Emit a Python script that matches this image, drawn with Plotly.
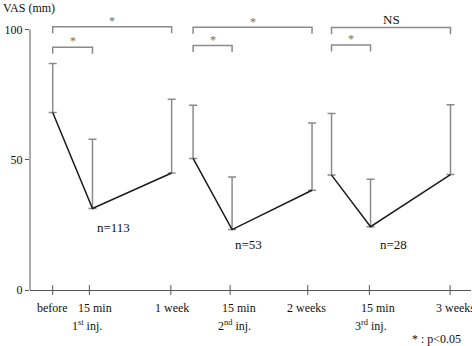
import plotly.graph_objects as go

# ---- data ----
x_pos1 = [0.0, 1.02, 3.05]
x_pos2 = [3.6, 4.6, 6.65]
x_pos3 = [7.15, 8.15, 10.2]
mean1 = [68.1, 31.3, 44.9]
sd1 = [18.8, 26.6, 28.3]
mean2 = [50.5, 23.2, 38.3]
sd2 = [20.4, 20.2, 25.8]
mean3 = [44.1, 24.3, 44.3]
sd3 = [23.6, 18.2, 26.8]
n_labels = ["n=113", "n=53", "n=28"]
n_label_x = [1.57, 5.03, 8.73]
n_label_y = [23.8, 17.3, 17.3]
tick_x = [0, 0.94, 3.03, 4.55, 6.54, 8.12, 10.19]
row1_text = ["before", "15 min", "1 week", "15 min", "2 weeks", "15 min", "3 weeks"]
row1_x = [0, 1.085, 3.06, 4.77, 6.51, 8.34, 10.32]
row2_text = ["1<sup>st</sup> inj.", "2<sup>nd</sup> inj.", "3<sup>rd</sup> inj."]
row2_x = [0.88, 4.65, 8.16]
y_ticks = [0, 50, 100]
# brackets: (x start, x end, top, label)
brackets = [
    (x_pos1[0], x_pos1[2], 101.0, "*"),
    (x_pos1[0], x_pos1[1], 93.2, "*"),
    (x_pos2[0], x_pos2[2], 100.8, "*"),
    (x_pos2[0], x_pos2[1], 93.8, "*"),
    (x_pos3[0], x_pos3[2], 100.7, "NS"),
    (x_pos3[0], x_pos3[1], 94.0, "*"),
]

FONT = "Liberation Serif, Times New Roman, serif"
GRAY = "#8a8a8a"
AXC = "#555555"

fig = go.Figure()

for xs, m, s in [(x_pos1, mean1, sd1), (x_pos2, mean2, sd2), (x_pos3, mean3, sd3)]:
    fig.add_trace(go.Scatter(
        x=xs, y=m, mode="lines",
        line=dict(color="#1a1a1a", width=1.5),
        error_y=dict(type="data", symmetric=False, array=s, arrayminus=[0] * len(s),
                     color=GRAY, thickness=1.5, width=4),
        showlegend=False, hoverinfo="skip"))

# brackets
for x0, x1, top, lab in brackets:
    leg = 2.5
    fig.add_trace(go.Scatter(
        x=[x0, x0, x1, x1], y=[top - leg, top, top, top - leg], mode="lines",
        line=dict(color=GRAY, width=1.5), showlegend=False, hoverinfo="skip",
        cliponaxis=False))
    if lab == "*":
        fig.add_annotation(x=(x0 + x1) / 2, y=top + 2.2, text="*", showarrow=False,
                           font=dict(family=FONT, size=12, color="#6e6e6e"),
                           yanchor="middle")
    else:
        fig.add_annotation(x=(x0 + x1) / 2, y=top + 3.0, text=lab, showarrow=False,
                           font=dict(family=FONT, size=13, color="#111111"),
                           yanchor="middle")

# x tick marks crossing axis
fig.add_trace(go.Scatter(
    x=tick_x, y=[0] * len(tick_x), mode="markers",
    marker=dict(symbol="line-ns-open", size=7, color=AXC, line=dict(color=AXC, width=1)),
    showlegend=False, hoverinfo="skip", cliponaxis=False))

# n labels
for xs, lab, yv in zip(n_label_x, n_labels, n_label_y):
    fig.add_annotation(x=xs, y=yv, text=lab, showarrow=False,
                       font=dict(family=FONT, size=13, color="#111111"))

# x labels
for xv, t in zip(row1_x, row1_text):
    fig.add_annotation(x=xv, xref="x", y=0, yref="paper", yshift=-18, text=t,
                       showarrow=False, yanchor="middle",
                       font=dict(family=FONT, size=12, color="#111111"))
for xv, t in zip(row2_x, row2_text):
    fig.add_annotation(x=xv, xref="x", y=0, yref="paper", yshift=-35, text=t,
                       showarrow=False, yanchor="middle",
                       font=dict(family=FONT, size=12, color="#111111"))

fig.add_annotation(x=9.83, xref="x", y=0, yref="paper", yshift=-49,
                   text="* : p&lt;0.05", showarrow=False, yanchor="middle",
                   font=dict(family=FONT, size=12, color="#111111"))

fig.add_annotation(x=0, xref="paper", xanchor="left", xshift=-29, y=1, yref="paper",
                   yshift=-8, yanchor="middle", text="VAS (mm)", showarrow=False,
                   font=dict(family=FONT, size=12, color="#111111"))

# y axis line only to 100
fig.add_shape(type="line", xref="paper", yref="y", x0=0, x1=0, y0=0, y1=100,
              line=dict(color=AXC, width=1))

fig.update_layout(
    width=472, height=346,
    margin=dict(l=30, r=1, t=0, b=56),
    paper_bgcolor="white", plot_bgcolor="white",
    font=dict(family=FONT, size=12, color="#111111"),
    xaxis=dict(range=[-0.582, 10.726], showgrid=False, zeroline=False,
               showticklabels=False, ticks="", showline=True, linecolor=AXC,
               linewidth=1, fixedrange=True),
    yaxis=dict(range=[0, 111.3], showgrid=False, zeroline=False, showline=False,
               tickvals=y_ticks, ticks="outside", ticklen=4, tickcolor=AXC,
               tickfont=dict(family=FONT, size=12, color="#111111"), fixedrange=True),
)

fig.write_html("out.html", config={"displayModeBar": False, "staticPlot": True},
               post_script="document.body.style.margin='0px';")
